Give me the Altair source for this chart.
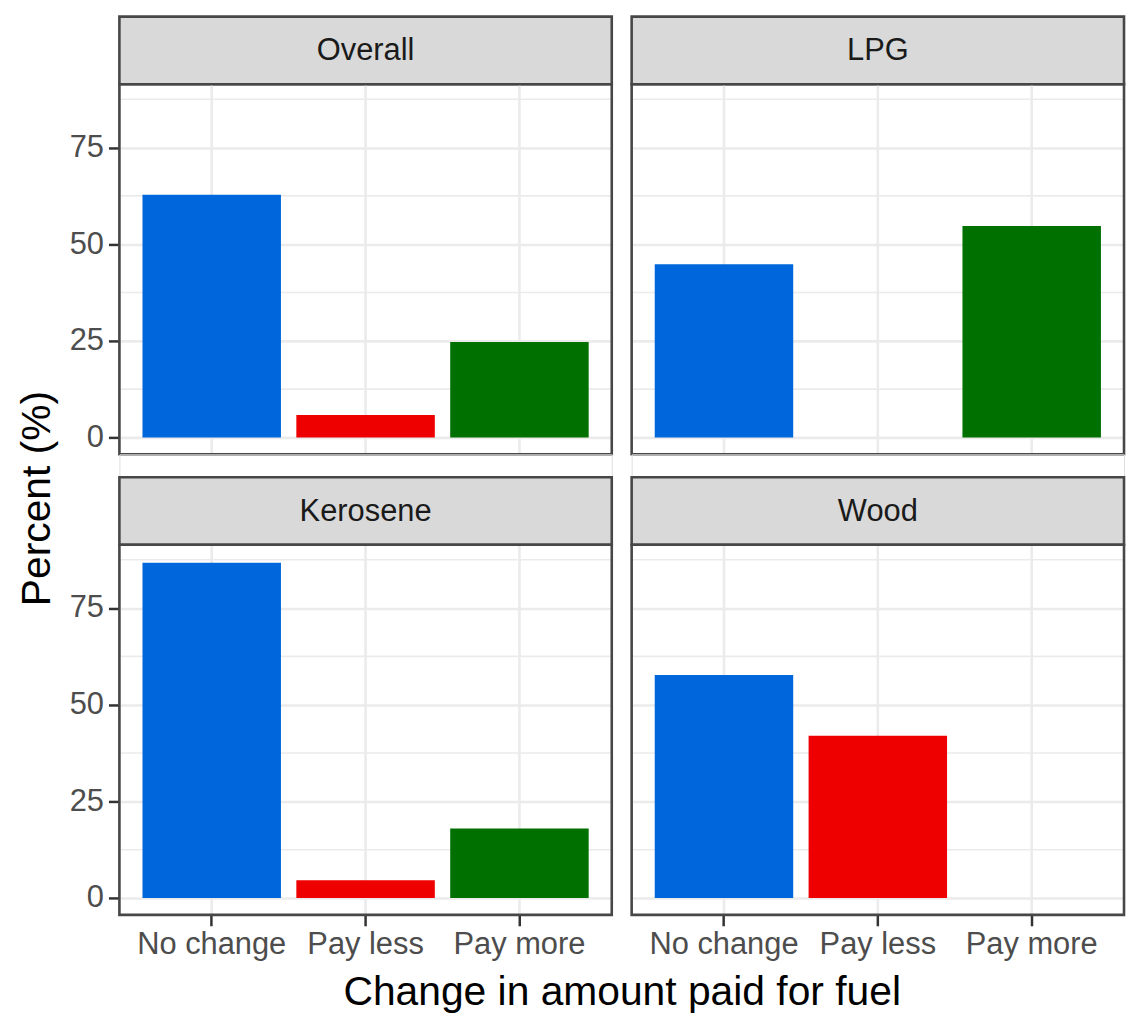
import altair as alt
import pandas as pd

# ---- data ----
categories = ["No change", "Pay less", "Pay more"]
fuels = ["Overall", "LPG", "Kerosene", "Wood"]
overall = [62.8, 5.8, 24.7]
lpg = [44.8, None, 54.7]
kerosene = [86.7, 4.6, 18.0]
wood = [57.7, 42.0, None]
bar_colors = ["#0066DB", "#EE0000", "#007000"]
major_ticks = [0, 25, 50, 75]
minor_ticks = [12.5, 37.5, 62.5, 87.5]
y_domain = [-4.35, 91.35]

series = {"Overall": overall, "LPG": lpg, "Kerosene": kerosene, "Wood": wood}

FONT = "Liberation Sans"
W, H, SH = 495, 372, 68
GAP = 23
BORDER = "#474747"
BW = 2.6
GRID = "#EBEBEB"


def plot_panel(fuel, left, bottom):
    vals = series[fuel]
    rows = [{"change": c, "pct": v} for c, v in zip(categories, vals) if v is not None]
    df = pd.DataFrame(rows)

    if bottom:
        x_axis = alt.Axis(
            bandPosition=0.5, grid=False, domain=False,
            labels=True, ticks=True, labelAngle=0, labelFontSize=31,
            labelColor="#4D4D4D", labelPadding=4, tickSize=11, tickColor="#333333",
            tickWidth=2.5, labelFont=FONT,
            title="Change in amount paid for fuel" if left else None,
            titleX=505, titleY=90, titleAlign="center", titleBaseline="alphabetic",
            titleFontSize=41, titleFontWeight="normal", titleColor="#000000",
            titleFont=FONT, titleAngle=0,
        )
    else:
        x_axis = None
    y_axis = alt.Axis(
        values=major_ticks, grid=True, gridColor=GRID, gridWidth=2.6, domain=False,
        labels=left, ticks=left, labelFontSize=31, labelColor="#4D4D4D",
        labelPadding=5, tickSize=11, tickColor="#333333", tickWidth=2.5,
        labelFont=FONT,
        title="Percent (%)" if (left and not bottom) else None,
        titleX=-70, titleY=416, titleAngle=270, titleAlign="center",
        titleBaseline="alphabetic", titleFontSize=41, titleFontWeight="normal",
        titleColor="#000000", titleFont=FONT,
    )
    yscale = alt.Scale(domain=y_domain, nice=False, zero=False)
    xscale = alt.Scale(domain=categories, paddingInner=0.1, paddingOuter=0.15)

    xgrid = alt.Chart(pd.DataFrame({"change": categories})).mark_rule(
        color=GRID, strokeWidth=2.6
    ).encode(
        x=alt.X("change:N", scale=xscale, axis=x_axis, sort=categories),
        y=alt.value(0), y2=alt.value(H),
    )
    minor = alt.Chart(pd.DataFrame({"v": minor_ticks})).mark_rule(
        color=GRID, strokeWidth=1.6
    ).encode(
        y=alt.Y("v:Q", scale=yscale, axis=y_axis),
        x=alt.value(0), x2=alt.value(W),
    )
    bars = alt.Chart(df).mark_bar().encode(
        x=alt.X("change:N", scale=xscale, axis=x_axis, sort=categories),
        y=alt.Y("pct:Q", scale=yscale, axis=y_axis),
        y2=alt.datum(0),
        color=alt.Color("change:N", scale=alt.Scale(domain=categories, range=bar_colors), legend=None),
    )
    border = alt.Chart(pd.DataFrame({"fuel": [fuel]})).mark_rect(
        fillOpacity=0, stroke=BORDER, strokeWidth=BW
    ).encode(x=alt.value(0), x2=alt.value(W), y=alt.value(0), y2=alt.value(H))

    return alt.layer(xgrid, minor, bars, border).properties(width=W, height=H)


def strip_panel(fuel):
    sdf = pd.DataFrame({"fuel": [fuel]})
    srect = alt.Chart(sdf).mark_rect(fill="#D9D9D9", stroke=BORDER, strokeWidth=BW).encode(
        x=alt.value(0), x2=alt.value(W), y=alt.value(0), y2=alt.value(SH)
    )
    stext = alt.Chart(sdf).mark_text(
        font=FONT, fontSize=31, color="#1A1A1A", align="center", baseline="middle"
    ).encode(text="fuel:N", x=alt.value(W / 2), y=alt.value(SH / 2 + 1))
    return alt.layer(srect, stext).properties(width=W, height=SH)


def spacer():
    return alt.Chart(pd.DataFrame({"s": [0]})).mark_point(opacity=0).encode(
        x=alt.value(0), y=alt.value(0)
    ).properties(width=W, height=GAP)


chart = alt.concat(
    strip_panel("Overall"), strip_panel("LPG"),
    plot_panel("Overall", True, False), plot_panel("LPG", False, False),
    spacer(), spacer(),
    strip_panel("Kerosene"), strip_panel("Wood"),
    plot_panel("Kerosene", True, True), plot_panel("Wood", False, True),
    columns=2, spacing={"row": 0, "column": 20}, bounds="flush",
).properties(
    padding={"left": 8, "top": 4, "right": 0, "bottom": 0},
    background="white",
).configure_view(stroke="transparent", strokeWidth=0).configure(font=FONT)

chart.save("out.html", embed_options={"renderer": "svg", "actions": False})
